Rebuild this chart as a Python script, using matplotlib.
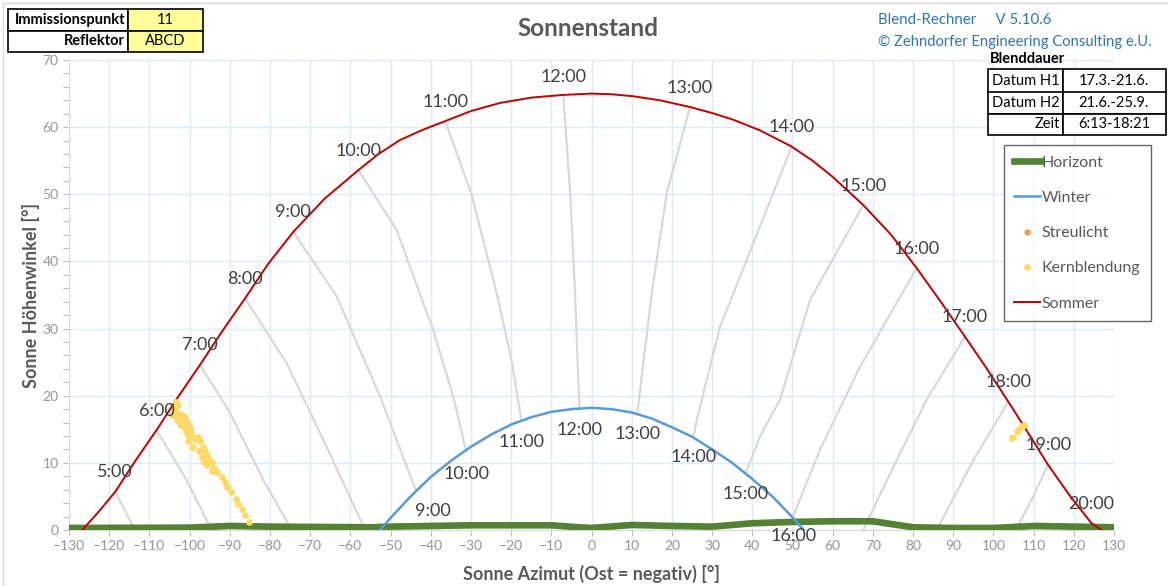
import matplotlib
matplotlib.use('Agg')
import matplotlib.pyplot as plt
from matplotlib.lines import Line2D
from matplotlib.patches import Rectangle

plt.rcParams['font.family'] = ['Lato', 'DejaVu Sans']

W, H = 1168, 586

# summer path (21.6.), azimuth / elevation in degrees
summer_az = [-126.7, -122.5, -118.5, -113.5, -108.2, -103.0, -97.4, -92.0, -86.2, -80.5, -74.2, -66.5,
             -58.0, -53.0, -47.6, -42.0, -36.4, -30.0, -22.8, -15.0, -7.0, 0.0, 5.0, 10.4, 17.0,
             24.5, 30.0, 35.3, 42.0, 49.8, 55.0, 60.0, 67.6, 74.5, 80.9, 87.0, 92.9, 98.5, 103.7,
             108.7, 113.6, 119.0, 124.4, 126.9]
summer_el = [0.0, 2.8, 5.7, 10.3, 14.9, 19.7, 24.6, 29.5, 34.5, 39.6, 44.4, 49.3,
             53.6, 56.0, 58.1, 59.6, 60.9, 62.4, 63.6, 64.4, 64.8, 65.0, 64.9, 64.6, 64.0,
             63.0, 62.1, 61.1, 59.5, 57.1, 55.0, 52.6, 48.4, 44.0, 39.0, 33.9, 28.8, 23.9, 19.1,
             14.4, 9.7, 5.1, 1.0, 0.0]

# winter path (21.12.)
winter_az = [-52.6, -50, -45, -40, -35, -30, -25, -20, -15, -10, -5, 0, 5, 10, 15, 20, 25, 30, 35, 40, 45, 50, 52.8]
winter_el = [0.0, 1.8, 5.0, 7.9, 10.3, 12.4, 14.2, 15.7, 16.8, 17.6, 18.0, 18.2, 18.0, 17.5, 16.6, 15.3,
             13.9, 12.0, 10.0, 7.6, 5.0, 1.9, 0.0]

# horizon
horizon_az = [-130, -100, -90, -80, -55, -50, -30, -10, -3, 0, 10, 20, 30, 40, 50, 60, 70, 80, 90, 100, 110, 120, 130]
horizon_el = [0.3, 0.35, 0.6, 0.5, 0.4, 0.5, 0.7, 0.7, 0.4, 0.3, 0.75, 0.6, 0.5, 1.0, 1.2, 1.3, 1.3, 0.4, 0.3, 0.3, 0.6, 0.5, 0.4]

# hour labels on the summer and winter paths
summer_hours = ['5:00', '6:00', '7:00', '8:00', '9:00', '10:00', '11:00', '12:00', '13:00', '14:00',
                '15:00', '16:00', '17:00', '18:00', '19:00', '20:00']
summer_hour_az = [-118.5, -108.2, -97.4, -86.2, -74.2, -58.0, -36.4, -7.0, 24.5, 49.8, 67.6, 80.9, 92.9, 103.7, 113.6, 124.4]
summer_hour_el = [5.7, 14.9, 24.6, 34.5, 44.4, 53.6, 60.9, 64.6, 63.0, 57.1, 48.4, 39.0, 28.8, 19.1, 9.7, 1.0]

winter_hours = ['9:00', '10:00', '11:00', '12:00', '13:00', '14:00', '15:00', '16:00']
winter_hour_az = [-43.7, -31.1, -17.4, -3.0, 11.4, 25.4, 38.4, 50.3]
winter_hour_el = [5.9, 11.5, 16.2, 18.0, 17.4, 14.0, 8.5, 2.2]

# grey lines: same clock time through the year
hour_line_az = [[-118.5, -113.6], [-108.2, -100.7, -94.5], [-97.4, -89.9, -81.6, -74.6],
                [-86.2, -75.8, -65.9, -56.3], [-74.2, -63.4, -52.6, -43.7],
                [-58.0, -48.5, -39.4, -34.4, -31.1], [-36.4, -29.8, -23.6, -19.9, -17.4],
                [-7.0, -5.3, -4.1, -3.0], [24.5, 18.7, 15.0, 11.4], [49.8, 38.6, 32.0, 26.2, 25.4],
                [67.6, 54.4, 46.9, 41.9, 38.4], [80.9, 66.8, 56.8, 50.3], [92.9, 83.4, 75.1, 67.6],
                [103.7, 95.0, 85.9], [113.6, 109.9, 105.6], [124.4, 124.0]]
hour_line_el = [[5.7, 0.0], [14.9, 7.4, 0.0], [24.6, 17.4, 7.4, 0.0],
                [34.5, 24.8, 12.4, 0.0], [44.4, 34.8, 19.9, 5.9],
                [53.6, 44.7, 29.8, 19.9, 11.5], [60.9, 49.9, 35.3, 25.3, 16.2],
                [64.6, 50.1, 35.3, 18.0], [63.0, 50.1, 35.3, 17.4], [57.1, 40.2, 30.3, 16.4, 14.0],
                [48.4, 34.3, 19.4, 13.9, 8.5], [39.0, 24.3, 11.9, 2.2], [28.8, 19.4, 9.4, 0.0],
                [19.1, 10.4, 0.0], [9.7, 5.0, 0.0], [1.0, 0.0]]

# glare points (Kernblendung)
kern_az = [-92.0, -91.3, -90.6, -89.8, -88.5, -87.9, -87.0, -86.2, -85.1,
           -98.0, -97.4, -96.7, -96.1, -95.7, -95.1, -94.5, -93.9, -93.2,
           -100.4, -100.3, -99.1, -97.6, -97.0, -96.4, -95.7, -94.5,
           -103.4, -103.0, -103.6, -104.0, -104.4, -103.6, -102.8, -101.9, -102.4, -101.1, -103.2,
           -101.7, -100.7, -102.5, -101.4, -100.0, -100.9, -99.7, -99.5, -98.4, -99.5,
           104.5, 104.9, 105.8, 106.4, 107.0, 107.6]
kern_el = [7.9, 7.2, 6.4, 5.6, 4.6, 3.9, 3.1, 2.2, 1.2,
           13.9, 13.2, 12.4, 11.7, 11.2, 10.4, 10.2, 9.3, 8.7,
           14.1, 13.2, 12.4, 11.7, 10.9, 10.2, 9.7, 8.8,
           19.1, 18.6, 18.1, 17.6, 17.1, 17.1, 17.4, 17.1, 16.6, 16.9, 16.4,
           16.0, 16.1, 15.6, 15.4, 15.4, 14.8, 14.6, 13.9, 13.4, 12.4,
           13.7, 13.9, 14.8, 15.0, 15.5, 15.7]
streu_az = []
streu_el = []

info_left = [('Immissionspunkt', '11'), ('Reflektor', 'ABCD')]
info_right = [('Datum H1', '17.3.-21.6.'), ('Datum H2', '21.6.-25.9.'), ('Zeit', '6:13-18:21')]

fig = plt.figure(figsize=(W / 100, H / 100), dpi=100)
ax = fig.add_axes([69 / W, 1 - 530 / H, (1114 - 69) / W, (530 - 60) / H])

for az, el in zip(hour_line_az, hour_line_el):
    ax.plot(az, el, color='#d9d9d9', lw=1.6, zorder=2, solid_capstyle='butt')

ax.plot(horizon_az, horizon_el, color='#548235', lw=4.8, zorder=3, label='Horizont')
ax.plot(winter_az, winter_el, color='#5b9bd5', lw=1.8, zorder=4, label='Winter')
ax.plot(summer_az, summer_el, color='#c00000', lw=1.4, zorder=4, label='Sommer')
ax.plot(streu_az, streu_el, 'o', color='#f79646', ms=4.5, mec='none', zorder=5, label='Streulicht')
ax.plot(kern_az, kern_el, 'o', color='#ffd966', ms=4.8, mec='none', zorder=5, label='Kernblendung')

for t, a, e in zip(summer_hours, summer_hour_az, summer_hour_el):
    ax.annotate(t, (a, e), xytext=(0, 14), textcoords='offset points', ha='center', va='center',
                fontsize=13, color='#404040', zorder=6)
winter_dx = {'9:00': 12}
for t, a, e in zip(winter_hours, winter_hour_az, winter_hour_el):
    ax.annotate(t, (a, e), xytext=(winter_dx.get(t, 0), -15), textcoords='offset points', ha='center',
                va='center', fontsize=13, color='#404040', zorder=6, annotation_clip=False)

ax.set_xlim(-130, 130)
ax.set_ylim(0, 70)
ax.set_xticks(range(-130, 131, 10))
ax.set_yticks(range(0, 71, 10))
ax.set_yticks(range(0, 71, 2), minor=True)
ax.grid(True, color='#deebf7', lw=1.0, zorder=0)
ax.set_axisbelow(True)
ax.tick_params(axis='both', colors='#bfbfbf', labelcolor='#969696', labelsize=10, length=4, width=0.8)
ax.tick_params(axis='y', which='minor', colors='#bfbfbf', length=4, width=0.8)
for s in ['top', 'right']:
    ax.spines[s].set_visible(False)
for s in ['left', 'bottom']:
    ax.spines[s].set_color('#d9d9d9')
ax.set_xlabel('Sonne Azimut (Ost = negativ) [°]', fontsize=13, fontweight='bold', color='#595959', labelpad=9)
ax.set_ylabel('Sonne Höhenwinkel [°]', fontsize=13, fontweight='bold', color='#595959', labelpad=2)

handles, labels = ax.get_legend_handles_labels()
order = ['Horizont', 'Winter', 'Streulicht', 'Kernblendung', 'Sommer']
hmap = dict(zip(labels, handles))
leg = fig.legend([hmap[k] for k in order], order, loc='upper left',
                 bbox_to_anchor=(1004 / W, 1 - 145 / H), frameon=True, fancybox=False,
                 edgecolor='#404040', fontsize=11.5, labelspacing=1.32, handlelength=1.6,
                 handletextpad=0.1, borderpad=0.65, borderaxespad=0)
leg.get_frame().set_linewidth(1.0)
for t in leg.get_texts():
    t.set_color('#595959')

fig.text(588 / W, 1 - 28 / H, 'Sonnenstand', ha='center', va='center', fontsize=17.5,
         fontweight='bold', color='#595959')
fig.text(878 / W, 1 - 20 / H, 'Blend-Rechner     V 5.10.6', ha='left', va='center', fontsize=10.8, color='#2e75b6')
fig.text(878 / W, 1 - 42 / H, '© Zehndorfer Engineering Consulting e.U.', ha='left', va='center',
         fontsize=10.6, color='#2e75b6')


def box(x0, y0, x1, y1, fc='white'):
    fig.add_artist(Rectangle((x0 / W, 1 - y1 / H), (x1 - x0) / W, (y1 - y0) / H,
                             transform=fig.transFigure, fc=fc, ec='black', lw=1.2))


# top left info table
rows_y = [9, 30.5, 51.5]
for i, (lab, val) in enumerate(info_left):
    y0, y1 = rows_y[i], rows_y[i + 1]
    box(8, y0, 128, y1)
    box(128, y0, 203, y1, fc='#ffff99')
    ym = 1 - (y0 + y1) / 2 / H
    fig.text(125 / W, ym, lab, ha='right', va='center', fontsize=10.5, fontweight='bold', color='black')
    fig.text(165.5 / W, ym, val, ha='center', va='center', fontsize=10.5, color='black')

# top right Blenddauer table
fig.text(990 / W, 1 - 59 / H, 'Blenddauer', ha='left', va='center', fontsize=10.5, fontweight='bold')
rows_y = [69, 92.5, 114, 135]
for i, (lab, val) in enumerate(info_right):
    y0, y1 = rows_y[i], rows_y[i + 1]
    box(988, y0, 1063, y1)
    box(1063, y0, 1166, y1)
    ym = 1 - (y0 + y1) / 2 / H
    fig.text(1060 / W, ym, lab, ha='right', va='center', fontsize=10.5)
    fig.text(1114 / W, ym, val, ha='center', va='center', fontsize=10.5)

# chart border
fig.add_artist(Line2D([3 / W, 1], [1 - 3 / H, 1 - 3 / H], transform=fig.transFigure, color='#d9d9d9', lw=1))
fig.add_artist(Line2D([3 / W, 3 / W], [0, 1 - 3 / H], transform=fig.transFigure, color='#d9d9d9', lw=1))

fig.savefig('out.png', dpi=100)
